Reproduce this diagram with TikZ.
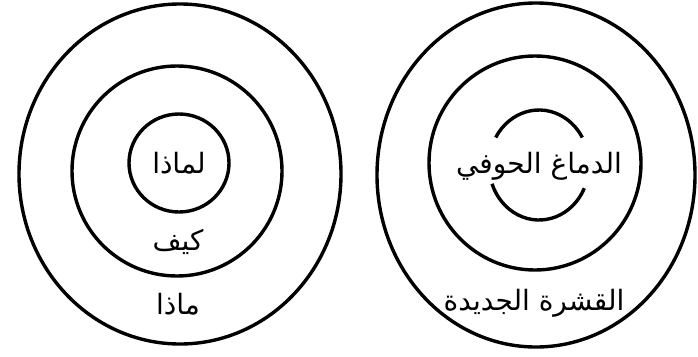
\documentclass[tikz,border=0pt]{standalone}
\usepackage{fontspec}
\TeXXeTstate=1
\newfontfamily\arabicfont[Script=Arabic]{DejaVu Sans}
\tikzset{
  ring/.style={line width=3.4pt, black},
  lbl/.style={font=\arabicfont\fontsize{28}{32}\selectfont, inner sep=0pt}
}
\begin{document}
\begin{tikzpicture}[x=1pt,y=-1pt]
\useasboundingbox (0,0) rectangle (698,356);
% left set
\draw[ring] (180,174) ellipse [x radius=161, y radius=170];
\draw[ring] (177,171) ellipse [x radius=105, y radius=105];
\draw[ring] (179,163) ellipse [x radius=50, y radius=49];
\node[lbl] (why) at (179,163) {\beginR لماذا\endR};
\node[lbl] (how) at (178,242) {\beginR كيف\endR};
\node[lbl] (what) at (178,304) {\beginR ماذا\endR};
% right set
\draw[ring] (536,175) ellipse [x radius=159, y radius=172];
\draw[ring] (535,163) ellipse [x radius=106, y radius=107];
\draw[ring] (539,165) ++(25:50 and 55) arc [start angle=25, end angle=160, x radius=50, y radius=55];
\draw[ring] (539,165) ++(210:50 and 55) arc [start angle=210, end angle=330, x radius=50, y radius=55];
\node[lbl] (limbic) at (539,166) {\beginR الدماغ الحوفي\endR};
\node[lbl] (neo) at (534,303) {\beginR القشرة الجديدة\endR};
\end{tikzpicture}
\end{document}
